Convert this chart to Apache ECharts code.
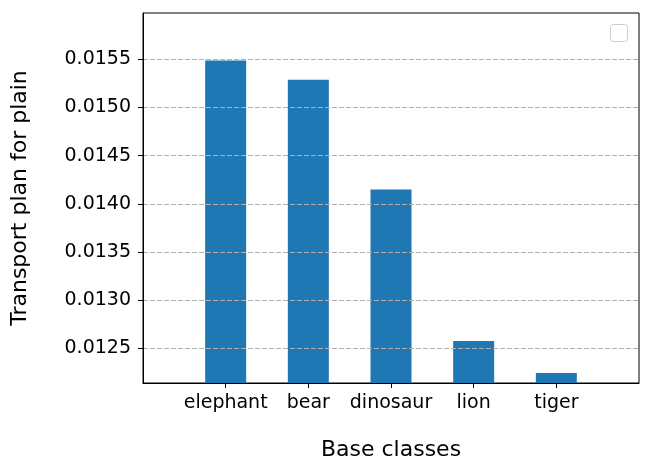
<!DOCTYPE html>
<html>
<head>
<meta charset="utf-8">
<script src="https://cdn.jsdelivr.net/npm/echarts@6/dist/echarts.min.js"></script>
<style>
html,body{margin:0;padding:0;background:#fff;}
#chart{width:652px;height:472px;}
</style>
</head>
<body>
<div id="chart"></div>
<script>
// Data
var categories = ['elephant', 'bear', 'dinosaur', 'lion', 'tiger'];
var values = [0.015486, 0.015286, 0.014149, 0.012576, 0.012244];
var yTitle = 'Transport plan for plain';
var xTitle = 'Base classes';
var yMin = 0.01214, yMax = 0.01598;

// Pad with empty slots on each side (x range -1 .. 5)
var xData = [''].concat(categories).concat(['']);
var barData = [null].concat(values).concat([null]);

var chart = echarts.init(document.getElementById('chart'), null, {renderer: 'canvas'});
var FONT = 'DejaVu Sans';
chart.setOption({
  animation: false,
  backgroundColor: '#fff',
  grid: {left: 143, right: 13, top: 13, bottom: 89, show: true, borderColor: '#000', borderWidth: 1, backgroundColor: 'transparent'},
  xAxis: {
    type: 'category',
    data: xData,
    boundaryGap: false,
    name: xTitle,
    nameLocation: 'middle',
    nameGap: 56,
    nameTextStyle: {fontFamily: FONT, fontSize: 22, color: '#000'},
    axisLine: {show: true, lineStyle: {color: '#000', width: 1}},
    axisTick: {show: true, length: 5, lineStyle: {color: '#000'}, interval: function (i) { return i > 0 && i < xData.length - 1; }},
    axisLabel: {interval: 0, fontFamily: FONT, fontSize: 19, color: '#000', margin: 11},
    splitLine: {show: false}
  },
  yAxis: {
    type: 'value',
    min: yMin,
    max: yMax,
    splitNumber: 8,
    z: 3,
    name: yTitle,
    nameLocation: 'middle',
    nameGap: 112,
    nameTextStyle: {fontFamily: FONT, fontSize: 22, color: '#000'},
    axisLine: {show: true, lineStyle: {color: '#000', width: 1}},
    axisTick: {show: true, length: 5, lineStyle: {color: '#000'}},
    axisLabel: {fontFamily: FONT, fontSize: 19, color: '#000', margin: 12, showMinLabel: false, showMaxLabel: false,
      formatter: function (v) { return v.toFixed(4); }},
    splitLine: {show: true, showMinLine: false, showMaxLine: false, lineStyle: {color: '#b0b0b0', width: 1, type: [5, 2]}}
  },
  series: [{
    type: 'bar',
    data: barData,
    barWidth: 41,
    itemStyle: {color: '#1f77b4'},
    z: 2
  }],
  graphic: [{
    type: 'rect',
    shape: {x: 610.5, y: 24.5, width: 17, height: 17, r: 3},
    style: {fill: '#fff', stroke: '#cccccc', lineWidth: 1}
  }]
});
</script>
</body>
</html>
